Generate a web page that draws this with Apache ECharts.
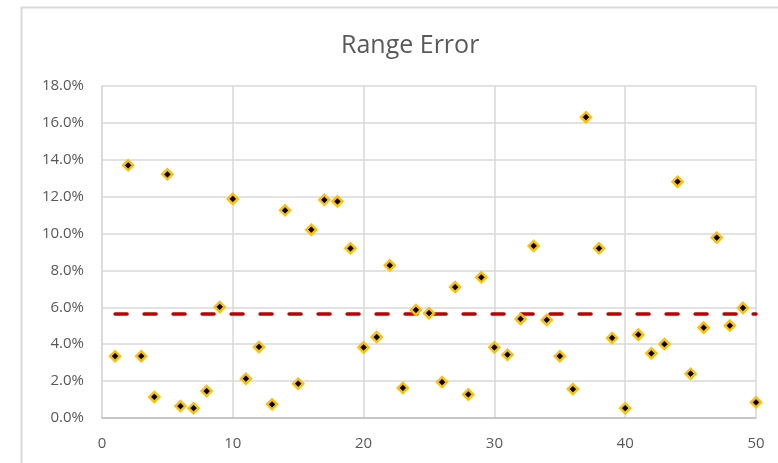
<!DOCTYPE html>
<html>
<head>
<meta charset="utf-8">
<title>Range Error</title>
<script src="https://cdn.jsdelivr.net/npm/echarts@6/dist/echarts.min.js"></script>
<style>
  html, body { margin: 0; padding: 0; background: #ffffff; }
  #chart { width: 778px; height: 463px; }
</style>
</head>
<body>
<div id="chart"></div>
<script>
// Sample index and range error (percent) for each sample
const sampleIndex = [
  1, 2, 3, 4, 5, 6, 7, 8, 9, 10,
  11, 12, 13, 14, 15, 16, 17, 18, 19, 20,
  21, 22, 23, 24, 25, 26, 27, 28, 29, 30,
  31, 32, 33, 34, 35, 36, 37, 38, 39, 40,
  41, 42, 43, 44, 45, 46, 47, 48, 49, 50
];
const rangeErrorPct = [
  3.35, 13.70, 3.35, 1.14, 13.21, 0.65, 0.53, 1.46, 6.02, 11.88,
  2.13, 3.85, 0.74, 11.26, 1.86, 10.21, 11.83, 11.75, 9.20, 3.83,
  4.39, 8.28, 1.63, 5.86, 5.68, 1.95, 7.10, 1.28, 7.63, 3.83,
  3.43, 5.37, 9.33, 5.32, 3.35, 1.57, 16.31, 9.20, 4.34, 0.53,
  4.52, 3.51, 4.01, 12.81, 2.40, 4.90, 9.78, 5.01, 5.97, 0.85
];
// Average range error, drawn as a dashed reference line
const averageErrorPct = 5.64;
const averageSpan = [1, 50];

// Axis ranges and tick steps
const xAxisRange = [0, 50];
const xTickStep = 10;
const yAxisRange = [0, 18];
const yTickStep = 2;

const textColor = '#595959';
const fontFamily = '"Open Sans", "Liberation Sans", sans-serif';

const chart = echarts.init(document.getElementById('chart'), null, { renderer: 'canvas' });

chart.setOption({
  backgroundColor: '#ffffff',
  animation: false,
  title: {
    text: 'Range Error',
    left: 336,
    top: 28,
    textStyle: {
      color: textColor,
      fontFamily: fontFamily,
      fontSize: 25,
      fontWeight: 'normal'
    }
  },
  graphic: [{
    type: 'rect',
    silent: true,
    shape: { x: 21.5, y: 7.5, width: 800, height: 500 },
    style: { fill: 'none', stroke: '#d9d9d9', lineWidth: 2 }
  }],
  grid: {
    left: 102,
    right: 22,
    top: 86,
    bottom: 45,
    containLabel: false
  },
  xAxis: {
    type: 'value',
    min: xAxisRange[0],
    max: xAxisRange[1],
    interval: xTickStep,
    axisLine: { show: true, lineStyle: { color: '#bfbfbf', width: 1.5 } },
    axisTick: { show: false },
    splitLine: { show: true, lineStyle: { color: '#d9d9d9', width: 1.5 } },
    axisLabel: {
      color: textColor,
      fontFamily: fontFamily,
      fontSize: 15,
      margin: 18
    }
  },
  yAxis: {
    type: 'value',
    min: yAxisRange[0],
    max: yAxisRange[1],
    interval: yTickStep,
    axisLine: { show: true, lineStyle: { color: '#d9d9d9', width: 1.5 } },
    axisTick: { show: false },
    splitLine: { show: true, lineStyle: { color: '#d9d9d9', width: 1.5 } },
    axisLabel: {
      color: textColor,
      fontFamily: fontFamily,
      fontSize: 15,
      margin: 18,
      formatter: function (v) { return v.toFixed(1) + '%'; }
    }
  },
  series: [
    {
      name: 'Average',
      type: 'line',
      silent: true,
      symbol: 'none',
      z: 2,
      data: averageSpan.map(function (x) { return [x, averageErrorPct]; }),
      lineStyle: {
        color: '#c00000',
        width: 3.5,
        type: [12, 17],
        cap: 'round'
      }
    },
    {
      name: 'Range Error',
      type: 'scatter',
      z: 3,
      symbol: 'diamond',
      symbolSize: 10,
      data: sampleIndex.map(function (x, i) { return [x, rangeErrorPct[i]]; }),
      itemStyle: {
        color: '#000000',
        borderColor: '#ffc000',
        borderWidth: 2.5,
        opacity: 1
      }
    }
  ]
});
</script>
</body>
</html>
